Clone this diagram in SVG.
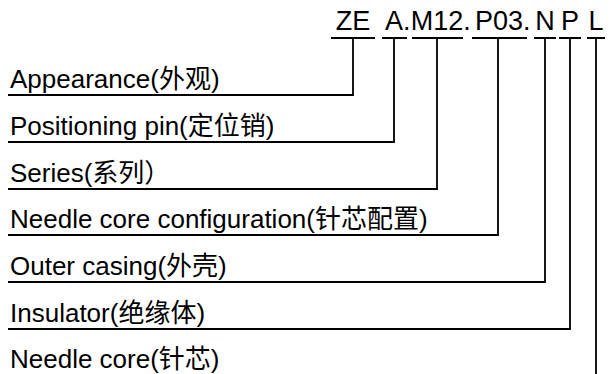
<svg xmlns="http://www.w3.org/2000/svg" width="612" height="374" viewBox="0 0 612 374">
<style>
.t{font-family:"Liberation Sans","Noto Sans CJK SC",Arial,sans-serif;font-size:26px;fill:#000}
.c{font-family:"Liberation Sans","Noto Sans CJK SC",Arial,sans-serif;font-size:27px;fill:#000;text-anchor:middle}
.d{font-family:"Liberation Sans","Noto Sans CJK SC",Arial,sans-serif;font-size:27px;fill:#000}
.ln{fill:none;stroke:#000;stroke-width:1.8}
</style>
<rect width="612" height="374" fill="#fff"/>
<g id="code">
<text class="c" x="353" y="30">ZE</text>
<text class="c" x="394" y="30">A</text>
<text class="d" x="403" y="30">.</text>
<text class="c" x="437" y="30">M12</text>
<text class="d" x="463.3" y="30">.</text>
<text class="c" x="499" y="30">P03</text>
<text class="d" x="523" y="30">.</text>
<text class="c" x="545" y="30">N</text>
<text class="c" x="570" y="30">P</text>
<text class="c" x="596" y="30">L</text>
</g>
<g id="n1"><text class="t" x="10" y="88">Appearance(外观)</text></g>
<g id="n2"><text class="t" x="10" y="135">Positioning pin(定位销)</text></g>
<g id="n3"><text class="t" x="10" y="182">Series(系列）</text></g>
<g id="n4"><text class="t" x="10" y="228">Needle core configuration(针芯配置)</text></g>
<g id="n5"><text class="t" x="10" y="275">Outer casing(外壳)</text></g>
<g id="n6"><text class="t" x="10" y="322">Insulator(绝缘体)</text></g>
<g id="n7"><text class="t" x="10" y="368">Needle core(针芯)</text></g>
<g id="connectors">
<path class="ln" d="M331 38H375M382 38H407M412 38H463M472 38H527M534 38H556M559 38H581M587 38H605"/>
<path class="ln" d="M353 38V95H8"/>
<path class="ln" d="M394 38V142H8"/>
<path class="ln" d="M437 38V189H8"/>
<path class="ln" d="M498 38V235H8"/>
<path class="ln" d="M545 38V282H8"/>
<path class="ln" d="M570 38V329H8"/>
<path class="ln" d="M596 38V374"/>
</g>
</svg>
